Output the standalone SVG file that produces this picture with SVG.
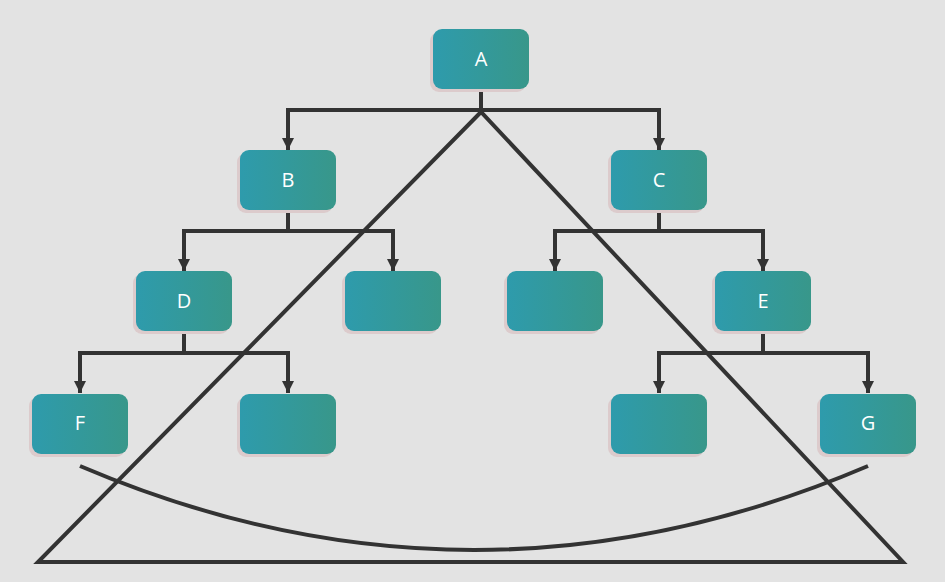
<svg xmlns="http://www.w3.org/2000/svg" width="945" height="582" viewBox="0 0 945 582">
<defs>
<linearGradient id="g" x1="0" y1="0" x2="1" y2="0">
<stop offset="0" stop-color="#2e9bac"/>
<stop offset="1" stop-color="#38978a"/>
</linearGradient>
<marker id="ah" markerWidth="12" markerHeight="12" refX="12" refY="6" orient="auto" markerUnits="userSpaceOnUse" viewBox="0 0 12 12">
<path d="M0,0 L12,6 L0,12 Z" fill="#333333"/>
</marker>
<style>
.sh{fill:#dccbcc}
.bx{fill:url(#g)}
.t{font-family:"Open Sans","Noto Sans",sans-serif;font-size:20px;fill:#ffffff;text-anchor:middle;dominant-baseline:central}
.c{fill:none;stroke:#333333;stroke-width:4}
.cn{fill:none;stroke:#333333;stroke-width:4;marker-end:url(#ah)}
</style>
</defs>
<rect width="945" height="582" fill="#e3e3e3"/>
<g id="connectors">
<path class="c" d="M481,89 V110"/>
<path class="cn" d="M481,110 H288 V150"/>
<path class="cn" d="M481,110 H659 V150"/>
<path class="c" d="M288,210 V231"/>
<path class="cn" d="M288,231 H184 V271"/>
<path class="cn" d="M288,231 H393 V271"/>
<path class="c" d="M659,210 V231"/>
<path class="cn" d="M659,231 H555 V271"/>
<path class="cn" d="M659,231 H763 V271"/>
<path class="c" d="M184,331 V353"/>
<path class="cn" d="M184,353 H80 V393"/>
<path class="cn" d="M184,353 H288 V393"/>
<path class="c" d="M763,331 V353"/>
<path class="cn" d="M763,353 H659 V393"/>
<path class="cn" d="M763,353 H868 V393"/>
</g>
<g id="nodeA"><rect class="sh" x="430" y="32" width="96" height="60" rx="9"/><rect class="bx" x="433" y="29" width="96" height="60" rx="9"/><text class="t" x="481" y="58">A</text></g>
<g id="nodeB"><rect class="sh" x="237" y="153" width="96" height="60" rx="9"/><rect class="bx" x="240" y="150" width="96" height="60" rx="9"/><text class="t" x="288" y="179">B</text></g>
<g id="nodeC"><rect class="sh" x="608" y="153" width="96" height="60" rx="9"/><rect class="bx" x="611" y="150" width="96" height="60" rx="9"/><text class="t" x="659" y="179">C</text></g>
<g id="nodeD"><rect class="sh" x="133" y="274" width="96" height="60" rx="9"/><rect class="bx" x="136" y="271" width="96" height="60" rx="9"/><text class="t" x="184" y="300">D</text></g>
<g id="nodeB2"><rect class="sh" x="342" y="274" width="96" height="60" rx="9"/><rect class="bx" x="345" y="271" width="96" height="60" rx="9"/></g>
<g id="nodeC1"><rect class="sh" x="504" y="274" width="96" height="60" rx="9"/><rect class="bx" x="507" y="271" width="96" height="60" rx="9"/></g>
<g id="nodeE"><rect class="sh" x="712" y="274" width="96" height="60" rx="9"/><rect class="bx" x="715" y="271" width="96" height="60" rx="9"/><text class="t" x="763" y="300">E</text></g>
<g id="nodeF"><rect class="sh" x="29" y="397" width="96" height="60" rx="9"/><rect class="bx" x="32" y="394" width="96" height="60" rx="9"/><text class="t" x="80" y="422">F</text></g>
<g id="nodeD2"><rect class="sh" x="237" y="397" width="96" height="60" rx="9"/><rect class="bx" x="240" y="394" width="96" height="60" rx="9"/></g>
<g id="nodeE1"><rect class="sh" x="608" y="397" width="96" height="60" rx="9"/><rect class="bx" x="611" y="394" width="96" height="60" rx="9"/></g>
<g id="nodeG"><rect class="sh" x="817" y="397" width="96" height="60" rx="9"/><rect class="bx" x="820" y="394" width="96" height="60" rx="9"/><text class="t" x="868" y="422">G</text></g>
<g id="shapes">
<path class="c" d="M481,112 L38,562 L903,562 Z" stroke-linejoin="miter"/>
<path class="c" d="M80,466 Q474,634 868,466"/>
</g>
</svg>
